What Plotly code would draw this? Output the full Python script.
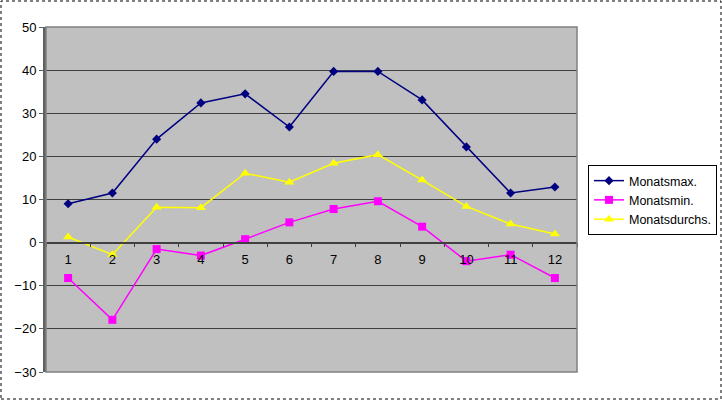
import plotly.graph_objects as go

months = [1, 2, 3, 4, 5, 6, 7, 8, 9, 10, 11, 12]
monatsmax = [9.0, 11.5, 24.0, 32.4, 34.5, 26.8, 39.7, 39.7, 33.1, 22.2, 11.5, 12.9]
monatsmin = [-8.2, -17.9, -1.5, -3.0, 0.8, 4.7, 7.8, 9.6, 3.7, -4.3, -2.8, -8.2]
monatsdurchs = [1.3, -2.8, 8.2, 8.1, 16.1, 14.0, 18.4, 20.4, 14.5, 8.4, 4.3, 2.0]
y_ticks = [-30, -20, -10, 0, 10, 20, 30, 40, 50]

W, H = 722, 400
ML, MR, MT, MB = 46, 145, 27, 28
pw, ph = W - ML - MR, H - MT - MB

fig = go.Figure()
fig.add_trace(go.Scatter(x=months, y=monatsmax, name="Monatsmax.", mode="lines+markers",
                         line=dict(color="#000080", width=1.5),
                         marker=dict(symbol="diamond", size=7, color="#000080")))
fig.add_trace(go.Scatter(x=months, y=monatsmin, name="Monatsmin.", mode="lines+markers",
                         line=dict(color="#ff00ff", width=1.5),
                         marker=dict(symbol="square", size=8, color="#ff00ff")))
fig.add_trace(go.Scatter(x=months, y=monatsdurchs, name="Monatsdurchs.", mode="lines+markers",
                         line=dict(color="#ffff00", width=1.5),
                         marker=dict(symbol="triangle-up", size=9, color="#ffff00")))

ymin, ymax = -30, 50
fig.update_layout(
    width=W, height=H,
    margin=dict(l=ML, r=MR, t=MT, b=MB, autoexpand=False),
    paper_bgcolor="white",
    plot_bgcolor="#c0c0c0",
    font=dict(family="Liberation Sans, Arial, sans-serif", size=13, color="black"),
    showlegend=True,
    legend=dict(x=(588 - ML) / pw, y=(372 - 200) / ph, xanchor="left", yanchor="middle",
                bordercolor="black", borderwidth=1, bgcolor="white",
                font=dict(size=12.5), itemwidth=30, tracegroupgap=2),
    xaxis=dict(range=[0.5, 12.5], tickmode="array", tickvals=months,
               ticktext=[str(m) for m in months], ticks="", showgrid=False,
               zeroline=False, showline=True, linecolor="#404040", linewidth=1.5,
               anchor="free", position=(0 - ymin) / (ymax - ymin),
               ticklabelstandoff=5,
               minor=dict(tickmode="linear", tick0=0.5, dtick=1, ticks="outside",
                          ticklen=4, tickcolor="#404040", showgrid=False),
               tickfont=dict(size=13)),
    yaxis=dict(range=[ymin, ymax], tickmode="array", tickvals=y_ticks,
               ticks="outside", ticklen=4, tickcolor="#606060",
               showgrid=True, gridcolor="#404040", gridwidth=1.2,
               zeroline=False, showline=True, linecolor="#606060", linewidth=3,
               mirror=False, tickfont=dict(size=13)),
)

# plot-area border
fig.add_shape(type="rect", xref="paper", yref="paper", x0=0, y0=0, x1=1, y1=1,
              line=dict(color="#808080", width=1.5), layer="above")
# outer dotted frame
fig.add_shape(type="rect", xref="paper", yref="paper",
              x0=(1 - ML) / pw, x1=(W - 1 - ML) / pw,
              y0=(ph + MT - (H - 1)) / ph, y1=(ph + MT - 1) / ph,
              line=dict(color="black", width=1, dash="dot"))

fig.write_html("out.html", config={"displayModeBar": False},
               post_script="document.body.style.margin='0px';document.body.style.overflow='hidden';")
